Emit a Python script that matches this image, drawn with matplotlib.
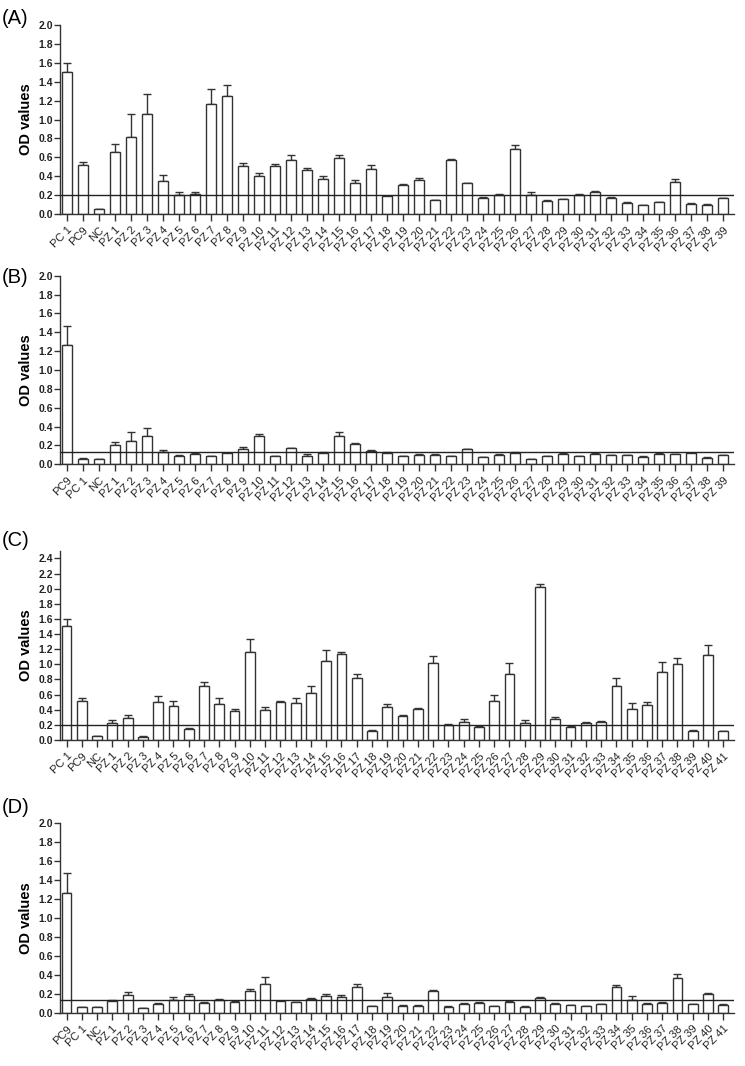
import matplotlib
matplotlib.use("Agg")
import matplotlib.pyplot as plt
import numpy as np

plt.rcParams['font.family'] = ['Liberation Sans', 'DejaVu Sans']

pz39 = ["PZ %d" % i for i in range(1, 40)]
pz41 = ["PZ %d" % i for i in range(1, 42)]

labels_a = ["PC 1", "PC9", "NC"] + pz39
values_a = [1.50, 0.52, 0.05, 0.66, 0.82, 1.06, 0.35, 0.20, 0.21, 1.16, 1.25, 0.505, 0.40, 0.505,
            0.575, 0.47, 0.375, 0.59, 0.33, 0.48, 0.19, 0.305, 0.355, 0.145, 0.57, 0.325, 0.17,
            0.205, 0.685, 0.205, 0.14, 0.155, 0.20, 0.23, 0.17, 0.12, 0.09, 0.125, 0.34, 0.11,
            0.10, 0.17]
sd_a = [0.10, 0.03, 0.005, 0.08, 0.24, 0.21, 0.06, 0.03, 0.02, 0.16, 0.12, 0.035, 0.03, 0.025,
        0.045, 0.02, 0.025, 0.03, 0.025, 0.04, 0.005, 0.015, 0.03, 0.005, 0.01, 0.005, 0.005,
        0.005, 0.05, 0.03, 0.003, 0.005, 0.015, 0.01, 0.005, 0.003, 0.003, 0.005, 0.035, 0.003,
        0.003, 0.003]
cut_a = 0.2

labels_b = ["PC9", "PC 1", "NC"] + pz39
values_b = [1.27, 0.06, 0.053, 0.20, 0.25, 0.30, 0.13, 0.088, 0.105, 0.085, 0.115, 0.16, 0.30,
            0.085, 0.17, 0.088, 0.125, 0.30, 0.22, 0.14, 0.125, 0.085, 0.10, 0.10, 0.085, 0.16,
            0.075, 0.10, 0.115, 0.053, 0.085, 0.11, 0.085, 0.11, 0.10, 0.095, 0.08, 0.11, 0.11,
            0.12, 0.07, 0.095]
sd_b = [0.20, 0.003, 0.003, 0.035, 0.095, 0.08, 0.02, 0.007, 0.02, 0.003, 0.01, 0.025, 0.025,
        0.003, 0.005, 0.017, 0.005, 0.04, 0.01, 0.015, 0.003, 0.003, 0.005, 0.005, 0.003, 0.005,
        0.003, 0.005, 0.012, 0.003, 0.003, 0.01, 0.003, 0.012, 0.003, 0.003, 0.003, 0.012,
        0.003, 0.003, 0.003, 0.003]
cut_b = 0.13

labels_c = ["PC 1", "PC9", "NC"] + pz41
values_c = [1.50, 0.52, 0.05, 0.225, 0.29, 0.045, 0.50, 0.455, 0.14, 0.71, 0.48, 0.38, 1.16,
            0.39, 0.50, 0.485, 0.62, 1.04, 1.14, 0.82, 0.125, 0.43, 0.32, 0.405, 1.015, 0.195,
            0.235, 0.17, 0.51, 0.87, 0.225, 2.02, 0.275, 0.175, 0.225, 0.235, 0.72, 0.41, 0.46,
            0.90, 1.00, 0.125, 1.12, 0.115]
sd_c = [0.10, 0.035, 0.003, 0.035, 0.035, 0.003, 0.08, 0.055, 0.02, 0.06, 0.075, 0.03, 0.17,
        0.04, 0.02, 0.065, 0.095, 0.155, 0.025, 0.05, 0.005, 0.04, 0.015, 0.015, 0.09, 0.015,
        0.045, 0.015, 0.09, 0.15, 0.045, 0.045, 0.03, 0.015, 0.015, 0.02, 0.105, 0.085, 0.04,
        0.135, 0.09, 0.003, 0.13, 0.005]
cut_c = 0.2

labels_d = ["PC9", "PC 1", "NC"] + pz41
values_d = [1.26, 0.06, 0.056, 0.123, 0.183, 0.046, 0.095, 0.137, 0.173, 0.10, 0.13, 0.116,
            0.232, 0.306, 0.123, 0.109, 0.14, 0.173, 0.162, 0.27, 0.07, 0.162, 0.074, 0.074,
            0.225, 0.063, 0.092, 0.099, 0.07, 0.113, 0.063, 0.158, 0.095, 0.081, 0.067, 0.092,
            0.268, 0.137, 0.095, 0.106, 0.37, 0.088, 0.20, 0.085]
sd_d = [0.21, 0.003, 0.003, 0.011, 0.035, 0.003, 0.005, 0.033, 0.021, 0.01, 0.018, 0.007,
        0.022, 0.074, 0.003, 0.005, 0.018, 0.024, 0.028, 0.036, 0.003, 0.042, 0.003, 0.003,
        0.011, 0.003, 0.014, 0.01, 0.003, 0.01, 0.003, 0.004, 0.003, 0.003, 0.003, 0.003,
        0.024, 0.036, 0.003, 0.005, 0.042, 0.005, 0.008, 0.003]
cut_d = 0.13

W, H = 745, 1066
fig = plt.figure(figsize=(W / 100, H / 100), dpi=100)

panels = [
    ("(A)", labels_a, values_a, sd_a, cut_a, 25, 214, 2.0, np.arange(0, 2.01, 0.2), (2, 24), 0.62),
    ("(B)", labels_b, values_b, sd_b, cut_b, 275.7, 464.3, 2.0, np.arange(0, 2.01, 0.2), (2, 283), 0.62),
    ("(C)", labels_c, values_c, sd_c, cut_c, 550.8, 740, 2.5, np.arange(0, 2.41, 0.2), (2, 546), 0.64),
    ("(D)", labels_d, values_d, sd_d, cut_d, 823.3, 1012.7, 2.0, np.arange(0, 2.01, 0.2), (2, 813), 0.64),
]

x0, x1 = 60, 734
for tag, labels, vals, sds, cut, top_px, bot_px, ymax, yt, tagpos, bw in panels:
    ax = fig.add_axes([x0 / W, 1 - bot_px / H, (x1 - x0) / W, (bot_px - top_px) / H])
    n = len(labels)
    x = np.arange(n)
    ax.bar(x, vals, width=bw, facecolor="white", edgecolor="#333333", linewidth=1.0, zorder=2)
    ax.errorbar(x, vals, yerr=[np.zeros(n), sds], fmt="none", ecolor="#333333",
                elinewidth=1.0, capsize=3, capthick=1.0, zorder=1)
    ax.axhline(cut, color="#222222", linewidth=1.0, zorder=3)
    ax.set_xlim(-0.43, n - 1 + 0.7)
    ax.set_ylim(0, ymax)
    ax.set_yticks(yt)
    ax.set_yticklabels(["%.1f" % v for v in yt], fontsize=7.5, fontweight="bold")
    ax.set_xticks(x)
    ax.set_xticklabels(labels, rotation=45, ha="right", rotation_mode="anchor", fontsize=8)
    ax.tick_params(axis="y", direction="out", length=4, width=1, pad=1, colors="#333333",
                   labelcolor="#222222")
    ax.tick_params(axis="x", direction="out", length=5, width=1, pad=3, colors="#333333",
                   labelcolor="#222222")
    for s in ("top", "right"):
        ax.spines[s].set_visible(False)
    for s in ("left", "bottom"):
        ax.spines[s].set_color("#333333")
        ax.spines[s].set_linewidth(1.0)
    ax.set_ylabel("OD values", fontsize=10.5, fontweight="bold", labelpad=4)
    fig.text(tagpos[0] / W, 1 - tagpos[1] / H, tag, fontsize=14.5, ha="left", va="baseline")

fig.savefig("out.png", dpi=100)
